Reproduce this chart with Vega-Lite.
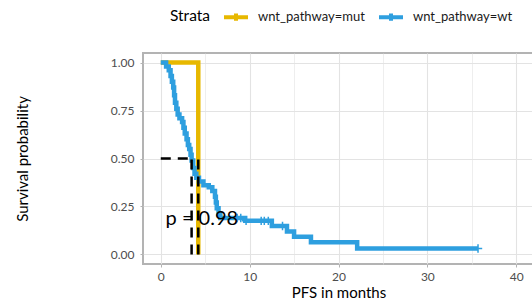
{
  "$schema": "https://vega.github.io/schema/vega-lite/v6.json",
  "autosize": {"type": "none"},
  "padding": {"left": 143, "top": 53, "right": 0, "bottom": 39},
  "width": 391,
  "height": 211,
  "background": "white",
  "config": {
    "font": "Lato",
    "view": {"stroke": "#b3b3b3", "strokeWidth": 2},
    "axis": {
      "domain": false,
      "labelColor": "#4d4d4d",
      "labelFontSize": 12,
      "titleFontSize": 15,
      "titleFontWeight": "normal",
      "titleColor": "#000000",
      "tickColor": "#b3b3b3",
      "tickSize": 3,
      "gridColor": "#e3e3e3"
    }
  },
  "datasets": {
    "km": [
      {"strata": "wnt_pathway=mut", "time": 0, "surv": 1.0},
      {"strata": "wnt_pathway=mut", "time": 4.22, "surv": 0.0},
      {"strata": "wnt_pathway=wt", "time": 0, "surv": 1.0},
      {"strata": "wnt_pathway=wt", "time": 0.6, "surv": 0.98},
      {"strata": "wnt_pathway=wt", "time": 0.9, "surv": 0.96},
      {"strata": "wnt_pathway=wt", "time": 1.1, "surv": 0.93},
      {"strata": "wnt_pathway=wt", "time": 1.25, "surv": 0.9},
      {"strata": "wnt_pathway=wt", "time": 1.4, "surv": 0.87},
      {"strata": "wnt_pathway=wt", "time": 1.5, "surv": 0.83},
      {"strata": "wnt_pathway=wt", "time": 1.6, "surv": 0.79},
      {"strata": "wnt_pathway=wt", "time": 1.75, "surv": 0.76},
      {"strata": "wnt_pathway=wt", "time": 1.9, "surv": 0.73},
      {"strata": "wnt_pathway=wt", "time": 2.1, "surv": 0.71},
      {"strata": "wnt_pathway=wt", "time": 2.4, "surv": 0.69},
      {"strata": "wnt_pathway=wt", "time": 2.55, "surv": 0.66},
      {"strata": "wnt_pathway=wt", "time": 2.7, "surv": 0.63},
      {"strata": "wnt_pathway=wt", "time": 2.9, "surv": 0.6},
      {"strata": "wnt_pathway=wt", "time": 3.05, "surv": 0.57},
      {"strata": "wnt_pathway=wt", "time": 3.2, "surv": 0.55},
      {"strata": "wnt_pathway=wt", "time": 3.35, "surv": 0.52},
      {"strata": "wnt_pathway=wt", "time": 3.47, "surv": 0.49},
      {"strata": "wnt_pathway=wt", "time": 3.65, "surv": 0.45},
      {"strata": "wnt_pathway=wt", "time": 3.8, "surv": 0.42},
      {"strata": "wnt_pathway=wt", "time": 4.0, "surv": 0.4},
      {"strata": "wnt_pathway=wt", "time": 4.3, "surv": 0.38},
      {"strata": "wnt_pathway=wt", "time": 4.8, "surv": 0.36},
      {"strata": "wnt_pathway=wt", "time": 5.4, "surv": 0.35},
      {"strata": "wnt_pathway=wt", "time": 5.8, "surv": 0.33},
      {"strata": "wnt_pathway=wt", "time": 6.1, "surv": 0.3},
      {"strata": "wnt_pathway=wt", "time": 6.2, "surv": 0.27},
      {"strata": "wnt_pathway=wt", "time": 6.3, "surv": 0.24},
      {"strata": "wnt_pathway=wt", "time": 6.5, "surv": 0.21},
      {"strata": "wnt_pathway=wt", "time": 6.7, "surv": 0.19},
      {"strata": "wnt_pathway=wt", "time": 9.5, "surv": 0.175},
      {"strata": "wnt_pathway=wt", "time": 12.5, "surv": 0.148},
      {"strata": "wnt_pathway=wt", "time": 14.2, "surv": 0.12},
      {"strata": "wnt_pathway=wt", "time": 15.0, "surv": 0.092},
      {"strata": "wnt_pathway=wt", "time": 16.9, "surv": 0.064},
      {"strata": "wnt_pathway=wt", "time": 22.1, "surv": 0.031},
      {"strata": "wnt_pathway=wt", "time": 35.7, "surv": 0.031}
    ],
    "censor": [
      {"strata": "wnt_pathway=wt", "time": 8.6, "surv": 0.19},
      {"strata": "wnt_pathway=wt", "time": 9.0, "surv": 0.19},
      {"strata": "wnt_pathway=wt", "time": 9.6, "surv": 0.175},
      {"strata": "wnt_pathway=wt", "time": 11.3, "surv": 0.175},
      {"strata": "wnt_pathway=wt", "time": 11.65, "surv": 0.175},
      {"strata": "wnt_pathway=wt", "time": 12.1, "surv": 0.175},
      {"strata": "wnt_pathway=wt", "time": 13.7, "surv": 0.148},
      {"strata": "wnt_pathway=wt", "time": 35.7, "surv": 0.031}
    ],
    "medians": [
      {"strata": "wnt_pathway=wt", "median": 3.47},
      {"strata": "wnt_pathway=mut", "median": 4.22}
    ]
  },
  "layer": [
    {
      "data": {"name": "km"},
      "mark": {"type": "line", "interpolate": "step-after", "strokeWidth": 4.5, "clip": true},
      "encoding": {
        "x": {
          "field": "time", "type": "quantitative",
          "scale": {"domain": [-2, 42], "nice": false, "zero": false},
          "axis": {
            "title": "PFS in months",
            "values": [0, 5, 10, 15, 20, 25, 30, 35, 40],
            "labelExpr": "datum.value % 10 === 0 ? datum.label : ''",
            "tickOpacity": {"condition": {"test": "datum.value % 10 === 0", "value": 1}, "value": 0},
            "gridWidth": {"condition": {"test": "datum.value % 10 === 0", "value": 1.1}, "value": 0.6},
            "labelPadding": 4,
            "titlePadding": 3
          }
        },
        "y": {
          "field": "surv", "type": "quantitative",
          "scale": {"domain": [-0.05, 1.05], "nice": false, "zero": false},
          "axis": {
            "title": "Survival probability",
            "values": [0, 0.125, 0.25, 0.375, 0.5, 0.625, 0.75, 0.875, 1],
            "format": ".2f",
            "labelExpr": "(datum.value * 4) % 1 === 0 ? datum.label : ''",
            "tickOpacity": {"condition": {"test": "(datum.value * 4) % 1 === 0", "value": 1}, "value": 0},
            "gridWidth": {"condition": {"test": "(datum.value * 4) % 1 === 0", "value": 1.1}, "value": 0.6},
            "labelPadding": 6,
            "titlePadding": 80
          }
        },
        "color": {
          "field": "strata", "type": "nominal",
          "scale": {"domain": ["wnt_pathway=mut", "wnt_pathway=wt"], "range": ["#E7B800", "#2E9FDF"]},
          "legend": {
            "title": "Strata",
            "orient": "none",
            "direction": "horizontal",
            "titleOrient": "left",
            "legendX": 27,
            "legendY": -50,
            "titleFontSize": 15.5,
            "titleFontWeight": "normal",
            "titleColor": "#000000",
            "titlePadding": 12,
            "labelFontSize": 13,
            "labelColor": "#1a1a1a",
            "symbolType": "M-1,0H1M0,-0.3V0.3",
            "symbolSize": 576,
            "symbolStrokeWidth": 4,
            "columnPadding": 6,
            "labelOffset": 8
          }
        }
      }
    },
    {
      "data": {"name": "censor"},
      "mark": {"type": "point", "shape": "M-1,0H1M0,-1V1", "filled": false, "strokeWidth": 1.5, "size": 70, "opacity": 1},
      "encoding": {
        "x": {"field": "time", "type": "quantitative"},
        "y": {"field": "surv", "type": "quantitative"},
        "color": {"field": "strata", "type": "nominal", "legend": null}
      }
    },
    {
      "data": {"name": "medians"},
      "mark": {"type": "rule", "strokeDash": [10, 7], "strokeWidth": 2.5, "color": "black"},
      "encoding": {
        "x": {"field": "median", "type": "quantitative"},
        "y": {"datum": 0},
        "y2": {"datum": 0.5}
      }
    },
    {
      "data": {"values": [{"from": 0, "to": 3.47, "level": 0.5}]},
      "mark": {"type": "rule", "strokeDash": [10, 7], "strokeWidth": 2.5, "color": "black"},
      "encoding": {
        "x": {"field": "from", "type": "quantitative"},
        "x2": {"field": "to"},
        "y": {"field": "level", "type": "quantitative"}
      }
    },
    {
      "data": {"values": [{"label": "p = 0.98", "time": 4.62, "surv": 0.185}]},
      "mark": {"type": "text", "fontSize": 20, "color": "black", "align": "center", "baseline": "middle"},
      "encoding": {
        "x": {"field": "time", "type": "quantitative"},
        "y": {"field": "surv", "type": "quantitative"},
        "text": {"field": "label"}
      }
    }
  ]
}
